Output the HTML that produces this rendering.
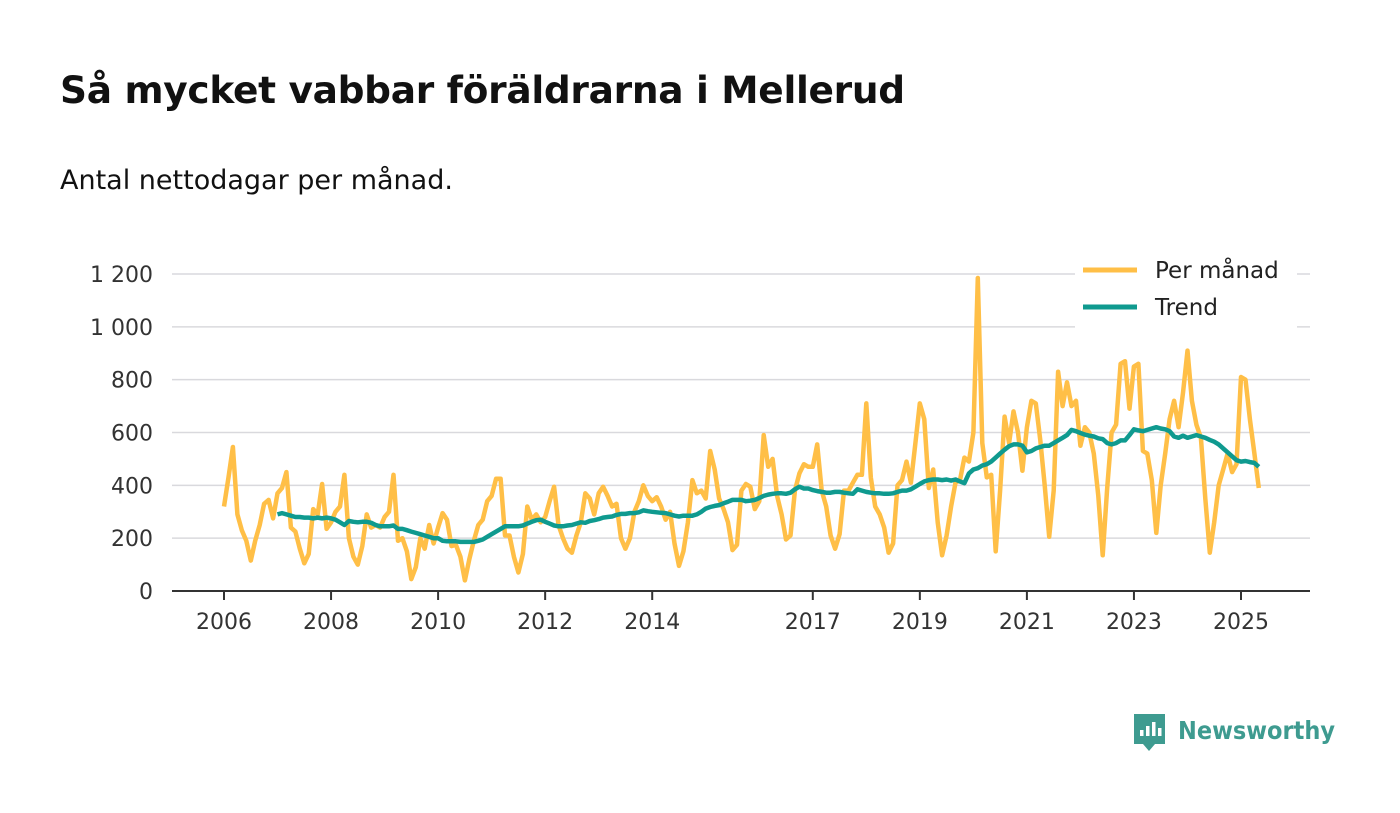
<!DOCTYPE html>
<html><head><meta charset="utf-8">
<style>
body{margin:0;background:#fff;font-family:"Liberation Sans","DejaVu Sans",sans-serif;}
#wrap{position:relative;width:1400px;height:813px;overflow:hidden;}
h1{position:absolute;left:60px;top:68px;margin:0;font-size:37.5px;font-weight:bold;color:#111;font-family:"DejaVu Sans","Liberation Sans",sans-serif;letter-spacing:-0.3px}
.sub{position:absolute;left:60px;top:165px;font-size:27px;color:#111;font-family:"DejaVu Sans","Liberation Sans",sans-serif}
svg text{font-family:"DejaVu Sans","Liberation Sans",sans-serif;}
</style></head><body>
<div id="wrap">
<h1>Så mycket vabbar föräldrarna i Mellerud</h1>
<div class="sub">Antal nettodagar per månad.</div>
<svg id="chart" width="1400" height="813" style="position:absolute;left:0;top:0"></svg>
</div>
<script>
const yTicks=[0,200,400,600,800,1000,1200];
const yTickLabels=["0","200","400","600","800","1 000","1 200"];
const xTicks=[2006,2008,2010,2012,2014,2017,2019,2021,2023,2025];
const monthly=[
320,430,545,290,230,190,115,190,250,330,345,275,
370,390,450,240,225,160,105,140,310,290,405,235,
260,300,320,440,200,130,100,170,290,240,250,240,
280,300,440,190,200,150,45,90,200,160,250,180,
240,295,270,170,175,130,40,120,190,250,270,340,
360,425,425,210,210,130,70,140,320,270,290,260,
280,340,395,250,200,160,145,210,260,370,350,290,
370,395,360,320,330,200,160,200,300,340,400,360,
340,355,320,270,300,180,95,150,260,420,370,380,
350,530,460,350,310,260,155,175,380,405,395,310,
340,590,470,500,360,290,195,210,380,445,480,470,
470,555,380,320,210,160,215,380,380,410,440,440,
710,430,320,290,240,145,180,400,420,490,410,560,
710,650,390,460,260,135,210,320,410,420,505,490,
600,1185,560,430,440,150,380,660,560,680,600,455,
620,720,710,570,400,205,380,830,700,790,700,720,
550,620,600,520,360,135,390,600,630,860,870,690,
850,860,530,520,420,220,400,520,650,720,620,750,
910,720,630,580,350,145,260,400,460,520,450,480,
810,800,650,520,390];
const trendStart=2007;
const trend=[
290,295,290,285,280,280,278,278,275,278,275,278,
275,270,260,250,265,262,260,262,262,258,250,245,
245,245,248,235,235,230,225,220,215,210,205,200,
200,190,188,188,188,186,186,186,186,190,195,205,
215,225,235,245,245,245,245,248,255,262,268,270,
262,255,248,245,245,248,250,255,260,258,265,268,
272,278,280,282,288,292,292,295,295,298,305,302,
300,298,296,295,290,285,282,285,285,285,290,300,
312,318,322,325,332,338,345,345,345,340,342,345,
352,360,365,368,370,370,368,372,385,395,388,388,
382,378,375,372,372,375,375,372,370,368,385,380,
375,372,370,370,368,368,370,375,380,380,385,395,
405,415,420,422,422,420,422,418,422,415,408,445,
460,465,475,480,490,505,520,535,548,555,555,550,
525,530,540,545,550,550,560,570,580,590,610,605,
598,592,588,585,578,575,560,555,560,570,570,590,
612,608,605,610,615,620,615,612,605,585,580,588,
580,585,590,585,580,572,565,555,540,525,510,495,
490,492,488,485,470];
const svg=document.getElementById('chart');
const NS='http://www.w3.org/2000/svg';
const xs=t=>224+(t-2006)*(1241-224)/19;
const ys=v=>591-v*(591-274)/1200;
function mk(tag,attrs){const e=document.createElementNS(NS,tag);for(const k in attrs)e.setAttribute(k,attrs[k]);svg.appendChild(e);return e;}
yTicks.forEach((v,i)=>{
 const g=mk('line',{x1:172,x2:1310,y1:ys(v),y2:ys(v),stroke:v===0?'#333':'#d9d9dd','stroke-width':v===0?2:1.5});
 
 
 const t=mk('text',{x:153,y:ys(v)+8,'text-anchor':'end','font-size':22,fill:'#333'});
 t.textContent=yTickLabels[i];
 
 
});
xTicks.forEach(yr=>{
 const l=mk('line',{x1:xs(yr),x2:xs(yr),y1:591,y2:600,stroke:'#333','stroke-width':2});
 
 
 const t=mk('text',{x:xs(yr),y:629,'text-anchor':'middle','font-size':22,fill:'#333'});
 t.textContent=String(yr);
 
 
});
const mp=monthly.map((v,i)=>xs(2006+i/12).toFixed(1)+','+ys(v).toFixed(1)).join(' ');
const m=mk('polyline',{points:mp,fill:'none',stroke:'#ffbf47','stroke-width':4.5,'stroke-linejoin':'round'});


const tp=trend.map((v,i)=>xs(trendStart+i/12).toFixed(1)+','+ys(v).toFixed(1)).join(' ');
const tr=mk('polyline',{points:tp,fill:'none',stroke:'#0f9a8f','stroke-width':4.5,'stroke-linejoin':'round'});


const lb=mk('rect',{x:1075,y:250,width:222,height:78,fill:'#fff'});


[['Per månad','#ffbf47',270],['Trend','#0f9a8f',307]].forEach(([n,c,y])=>{
 const l=mk('line',{x1:1083,x2:1137,y1:y,y2:y,stroke:c,'stroke-width':5});
 
 
 const t=mk('text',{x:1155,y:y+8,'font-size':23,fill:'#222'});
 t.textContent=n;
 
 
});
const logo=mk('path',{d:'M1134 714 h31 v30 h-10 l-6 7 l-6 -7 h-9 z',fill:'#3e9b90'});


[[1140,730,6],[1146,726,10],[1152,722,14],[1158,728,8]].forEach(([x,y,h])=>{
 const b=mk('rect',{x:x,y:y,width:3.5,height:h,fill:'#fff'});
 
 
});
const lt=mk('text',{x:1178,y:739,'font-size':25,'font-weight':'bold',fill:'#3e9b90',textLength:157,lengthAdjust:'spacingAndGlyphs'});
lt.textContent='Newsworthy';


</script>
</body></html>
